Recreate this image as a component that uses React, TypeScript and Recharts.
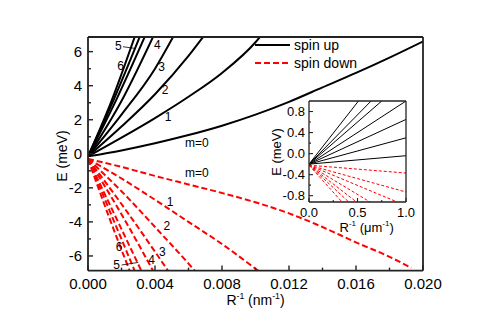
import { LineChart, Line, XAxis, YAxis, ReferenceDot, ReferenceLine, Legend, CartesianGrid, Label } from 'recharts';

type Pt = [number, number];

const FONT = '"Liberation Sans", Arial, sans-serif';
const RED = '#ff0000';
const AXIS = '#222';

// main panel: R^-1 (nm^-1) vs E (meV)
const upM0: Pt[] = [[0, -0.15], [0.002, 0.2], [0.004, 0.62], [0.006, 1.1], [0.008, 1.65], [0.01, 2.3], [0.012, 3.05], [0.014, 3.9], [0.016, 4.75], [0.018, 5.65], [0.02, 6.6]];
const upM1: Pt[] = [[0, -0.15], [0.002, 0.95], [0.004, 2.1], [0.006, 3.35], [0.008, 4.75], [0.01, 6.55], [0.0103, 6.9]];
const upM2: Pt[] = [[0, -0.15], [0.002, 1.6], [0.004, 3.5], [0.006, 5.75], [0.0069, 6.9]];
const upM3: Pt[] = [[0, -0.15], [0.002, 2.3], [0.004, 5.0], [0.0051, 6.9]];
const upM4: Pt[] = [[0, -0.15], [0.002, 3.1], [0.0039, 6.9]];
const upM5: Pt[] = [[0, -0.15], [0.0017, 3.2], [0.0034, 6.9]];
const upM6: Pt[] = [[0, -0.15], [0.0015, 3.1], [0.0031, 6.9]];
const upM7: Pt[] = [[0, -0.15], [0.0014, 3.1], [0.0028, 6.9]];

const dnM0: Pt[] = [[0, -0.3], [0.002, -0.77], [0.004, -1.3], [0.006, -1.8], [0.008, -2.3], [0.01, -2.85], [0.012, -3.5], [0.014, -4.3], [0.016, -5.2], [0.018, -6.05], [0.0193, -6.7]];
const dnM1: Pt[] = [[0, -0.3], [0.002, -1.45], [0.004, -2.7], [0.006, -4.0], [0.008, -5.3], [0.01, -6.75], [0.0102, -6.9]];
const dnM2: Pt[] = [[0, -0.3], [0.002, -2.2], [0.004, -4.3], [0.006, -6.45], [0.0064, -6.9]];
const dnM3: Pt[] = [[0, -0.3], [0.002, -2.95], [0.004, -5.75], [0.0048, -6.9]];
const dnM4: Pt[] = [[0, -0.3], [0.002, -3.55], [0.0039, -6.9]];
const dnM5: Pt[] = [[0, -0.3], [0.0016, -3.6], [0.0032, -6.9]];
const dnM6: Pt[] = [[0, -0.3], [0.0014, -3.6], [0.0028, -6.9]];
const dnM7: Pt[] = [[0, -0.3], [0.00125, -3.7], [0.0025, -6.9]];

// inset: R^-1 (um^-1) vs E (meV)
const inUpM0: Pt[] = [[0, -0.2], [1, -0.04]];
const inUpM1: Pt[] = [[0, -0.2], [1, 0.3]];
const inUpM2: Pt[] = [[0, -0.2], [1, 0.65]];
const inUpM3: Pt[] = [[0, -0.2], [1, 1.0]];
const inUpM4: Pt[] = [[0, -0.2], [0.75, 1.0]];
const inUpM5: Pt[] = [[0, -0.2], [0.64, 1.0]];
const inUpM6: Pt[] = [[0, -0.2], [0.51, 1.0]];
const inDnM0: Pt[] = [[0, -0.22], [1, -0.37]];
const inDnM1: Pt[] = [[0, -0.22], [1, -0.73]];
const inDnM2: Pt[] = [[0, -0.22], [0.91, -0.92]];
const inDnM3: Pt[] = [[0, -0.22], [0.63, -0.92]];
const inDnM4: Pt[] = [[0, -0.22], [0.49, -0.92]];
const inDnM5: Pt[] = [[0, -0.22], [0.41, -0.92]];
const inDnM6: Pt[] = [[0, -0.22], [0.34, -0.92]];

// ticks
const xTicks = [0, 0.002, 0.004, 0.006, 0.008, 0.01, 0.012, 0.014, 0.016, 0.018, 0.02];
const xMajor = [0, 0.004, 0.008, 0.012, 0.016, 0.02];
const xLabels = ['0.000', '0.004', '0.008', '0.012', '0.016', '0.020'];
const yTicks = [-6, -5, -4, -3, -2, -1, 0, 1, 2, 3, 4, 5, 6];
const yMajor = [-6, -4, -2, 0, 2, 4, 6];
const yLabels = ['-6', '-4', '-2', '0', '2', '4', '6'];

const inXTicks = [0, 0.25, 0.5, 0.75, 1];
const inXMajor = [0, 0.5, 1];
const inXLabels = ['0.0', '0.5', '1.0'];
const inYTicks = [-0.8, -0.6, -0.4, -0.2, 0, 0.2, 0.4, 0.6, 0.8];
const inYMajor = [-0.8, -0.4, 0, 0.4, 0.8];
const inYLabels = ['-0.8', '-0.4', '0.0', '0.4', '0.8'];

// curve labels (data coordinates)
const upNotes = [
  { t: 'm=0', x: 0.0065, y: 0.65 },
  { t: '1', x: 0.00478, y: 2.18 },
  { t: '2', x: 0.0046, y: 3.76 },
  { t: '3', x: 0.0044, y: 5.14 },
  { t: '4', x: 0.00414, y: 6.41 },
  { t: '6', x: 0.00195, y: 5.18 },
  { t: '5', x: 0.00181, y: 6.35 },
];
const dnNotes = [
  { t: 'm=0', x: 0.0065, y: -1.12 },
  { t: '1', x: 0.0049, y: -2.81 },
  { t: '2', x: 0.0047, y: -4.24 },
  { t: '3', x: 0.00444, y: -5.75 },
  { t: '4', x: 0.0038, y: -6.25 },
  { t: '6', x: 0.00185, y: -5.47 },
  { t: '5', x: 0.00171, y: -6.53 },
];
const arrows = [
  [{ x: 0.00209, y: 6.29 }, { x: 0.00287, y: 6.18 }],
  [{ x: 0.00201, y: -6.53 }, { x: 0.003, y: -6.38 }],
];

const toRows = (pts: Pt[]) => pts.map(([x, y]) => ({ x, y }));

const mainUp = [upM0, upM1, upM2, upM3, upM4, upM5, upM6, upM7].map(toRows);
const mainDown = [dnM0, dnM1, dnM2, dnM3, dnM4, dnM5, dnM6, dnM7].map(toRows);
const insetUp = [inUpM0, inUpM1, inUpM2, inUpM3, inUpM4, inUpM5, inUpM6].map(toRows);
const insetDown = [inDnM0, inDnM1, inDnM2, inDnM3, inDnM4, inDnM5, inDnM6].map(toRows);

type Side = 'bottom' | 'top' | 'left' | 'right';

// inward ticks, major ones longer, labels only on bottom/left
const makeTick = (side: Side, majors: number[], labels: string[] | null, opts: { big: number; small: number; fs: number; gap: number; stroke: number }) =>
  (props: any) => {
    const { x, y, payload } = props;
    const idx = majors.findIndex((m) => Math.abs(m - payload.value) < 1e-9);
    const len = idx >= 0 ? opts.big : opts.small;
    let line;
    if (side === 'bottom') line = <line x1={x} x2={x} y1={y} y2={y - len} />;
    else if (side === 'top') line = <line x1={x} x2={x} y1={y} y2={y + len} />;
    else if (side === 'left') line = <line x1={x} x2={x + len} y1={y} y2={y} />;
    else line = <line x1={x} x2={x - len} y1={y} y2={y} />;
    let text = null;
    if (labels && idx >= 0) {
      if (side === 'bottom') {
        text = <text x={x} y={y + opts.gap} textAnchor="middle" fontSize={opts.fs} fontFamily={FONT} fill="#000" stroke="none">{labels[idx]}</text>;
      } else {
        text = <text x={x - opts.gap} y={y + opts.fs * 0.36} textAnchor="end" fontSize={opts.fs} fontFamily={FONT} fill="#000" stroke="none">{labels[idx]}</text>;
      }
    }
    return (
      <g stroke={AXIS} strokeWidth={opts.stroke}>
        {line}
        {text}
      </g>
    );
  };

const mainOpts = { big: 5, small: 3, fs: 15, gap: 18.5, stroke: 1.4 };
const mainYOpts = { ...mainOpts, gap: 6 };
const inOpts = { big: 4, small: 2, fs: 13, gap: 15, stroke: 1.1 };
const inYOpts = { ...inOpts, gap: 4 };

const AxisTitle = ({ x, y, base, unit, rotate, fs }: { x: number; y: number; base: string; unit: string; rotate?: boolean; fs: number }) => (
  <text
    x={x}
    y={y}
    textAnchor="middle"
    fontSize={fs}
    fontFamily={FONT}
    fill="#000"
    transform={rotate ? `rotate(-90 ${x} ${y})` : undefined}
    dy={rotate ? '0.35em' : undefined}
  >
    {base === 'E' ? (
      `E (${unit})`
    ) : (
      <>
        <tspan>R</tspan>
        <tspan dy={-6} fontSize={fs * 0.62}>-1</tspan>
        <tspan dy={6}>{` (${unit}`}</tspan>
        <tspan dy={-6} fontSize={fs * 0.62}>-1</tspan>
        <tspan dy={6}>)</tspan>
      </>
    )}
  </text>
);

const LegendBox = () => (
  <div style={{ fontFamily: FONT, fontSize: 14, lineHeight: '18.3px', color: '#000' }}>
    <div style={{ display: 'flex', alignItems: 'center', whiteSpace: 'nowrap' }}>
      <svg width={39} height={10}>
        <line x1={0} y1={5} x2={35} y2={5} stroke="#000" strokeWidth={2} />
      </svg>
      <span>spin up</span>
    </div>
    <div style={{ display: 'flex', alignItems: 'center', whiteSpace: 'nowrap' }}>
      <svg width={39} height={10}>
        <line x1={0} y1={5} x2={35} y2={5} stroke={RED} strokeWidth={2} strokeDasharray="6 3" />
      </svg>
      <span>spin down</span>
    </div>
  </div>
);

const Inset = () => (
  <div style={{ position: 'absolute', left: 241, top: 88 }}>
    <LineChart width={167} height={146} margin={{ top: 0, right: 0, bottom: 0, left: 0 }}>
      <CartesianGrid fill="#fff" horizontal={false} vertical={false} />
      <XAxis dataKey="x" type="number" domain={[0, 1]} ticks={inXTicks} interval={0} allowDataOverflow height={40}
        tickSize={0} tickMargin={0} axisLine={{ stroke: AXIS, strokeWidth: 1.3 }} tickLine={false}
        tick={makeTick('bottom', inXMajor, inXLabels, inOpts)}>
        <Label content={() => <AxisTitle x={117.7} y={136} base="R" unit="μm" fs={13} />} />
      </XAxis>
      <XAxis xAxisId="t" orientation="top" dataKey="x" type="number" domain={[0, 1]} ticks={inXTicks} interval={0} height={5}
        tickSize={0} tickMargin={0} axisLine={{ stroke: AXIS, strokeWidth: 1.3 }} tickLine={false}
        tick={makeTick('top', inXMajor, null, inOpts)} />
      <YAxis type="number" domain={[-0.92, 1.0]} ticks={inYTicks} interval={0} allowDataOverflow width={60}
        tickSize={0} tickMargin={0} axisLine={{ stroke: AXIS, strokeWidth: 1.3 }} tickLine={false}
        tick={makeTick('left', inYMajor, inYLabels, inYOpts)}>
        <Label content={() => <AxisTitle x={27} y={56} base="E" unit="meV" rotate fs={13} />} />
      </YAxis>
      <YAxis yAxisId="r" orientation="right" type="number" domain={[-0.92, 1.0]} ticks={inYTicks} interval={0} width={10}
        tickSize={0} tickMargin={0} axisLine={{ stroke: AXIS, strokeWidth: 1.3 }} tickLine={false}
        tick={makeTick('right', inYMajor, null, inOpts)} />
      {insetUp.map((d, i) => (
        <Line key={`iu${i}`} data={d} dataKey="y" type="linear" stroke="#000" strokeWidth={1} dot={false} isAnimationActive={false} />
      ))}
      {insetDown.map((d, i) => (
        <Line key={`id${i}`} data={d} dataKey="y" type="linear" stroke={RED} strokeWidth={1} strokeDasharray="3 2" dot={false} isAnimationActive={false} />
      ))}
    </LineChart>
  </div>
);

export default function App() {
  return (
    <div style={{ position: 'relative', width: 483, height: 319 }}>
      <LineChart width={483} height={319} margin={{ top: 0, right: 0, bottom: 0, left: 0 }}>
        <XAxis dataKey="x" type="number" domain={[0, 0.02]} ticks={xTicks} interval={0} allowDataOverflow height={56.4}
          tickSize={0} tickMargin={0} axisLine={{ stroke: AXIS, strokeWidth: 1.8 }} tickLine={false}
          tick={makeTick('bottom', xMajor, xLabels, mainOpts)}>
          <Label content={() => <AxisTitle x={247.5} y={297} base="R" unit="nm" fs={14} />} />
        </XAxis>
        <XAxis xAxisId="t" orientation="top" dataKey="x" type="number" domain={[0, 0.02]} ticks={xTicks} interval={0} height={29}
          tickSize={0} tickMargin={0} axisLine={{ stroke: AXIS, strokeWidth: 1.8 }} tickLine={false}
          tick={makeTick('top', xMajor, null, mainOpts)} />
        <YAxis type="number" domain={[-6.86, 6.86]} ticks={yTicks} interval={0} allowDataOverflow width={80}
          tickSize={0} tickMargin={0} axisLine={{ stroke: AXIS, strokeWidth: 1.8 }} tickLine={false}
          tick={makeTick('left', yMajor, yLabels, mainYOpts)}>
          <Label content={() => <AxisTitle x={53.7} y={148} base="E" unit="meV" rotate fs={14} />} />
        </YAxis>
        <YAxis yAxisId="r" orientation="right" type="number" domain={[-6.86, 6.86]} ticks={yTicks} interval={0} width={68}
          tickSize={0} tickMargin={0} axisLine={{ stroke: AXIS, strokeWidth: 1.8 }} tickLine={false}
          tick={makeTick('right', yMajor, null, mainOpts)} />
        {mainUp.map((d, i) => (
          <Line key={`u${i}`} data={d} dataKey="y" type="monotone" stroke="#000" strokeWidth={2} dot={false} isAnimationActive={false} />
        ))}
        {mainDown.map((d, i) => (
          <Line key={`d${i}`} data={d} dataKey="y" type="monotone" stroke={RED} strokeWidth={2} strokeDasharray="6 3" dot={false} isAnimationActive={false} />
        ))}
        {[...upNotes, ...dnNotes].map((n, i) => (
          <ReferenceDot key={`n${i}`} x={n.x} y={n.y} r={0} fill="none" stroke="none"
            label={{ value: n.t, position: 'center', fill: '#000', fontSize: 12, fontFamily: FONT }} />
        ))}
        {arrows.map((seg, i) => (
          <ReferenceLine key={`a${i}`} segment={seg} stroke="#000" strokeWidth={0.8} />
        ))}
        <Legend layout="horizontal" verticalAlign="middle" align="center" content={LegendBox}
          wrapperStyle={{ position: 'absolute', left: 247, top: 28, width: 'auto', height: 'auto' }} />
      </LineChart>
      <Inset />
    </div>
  );
}
